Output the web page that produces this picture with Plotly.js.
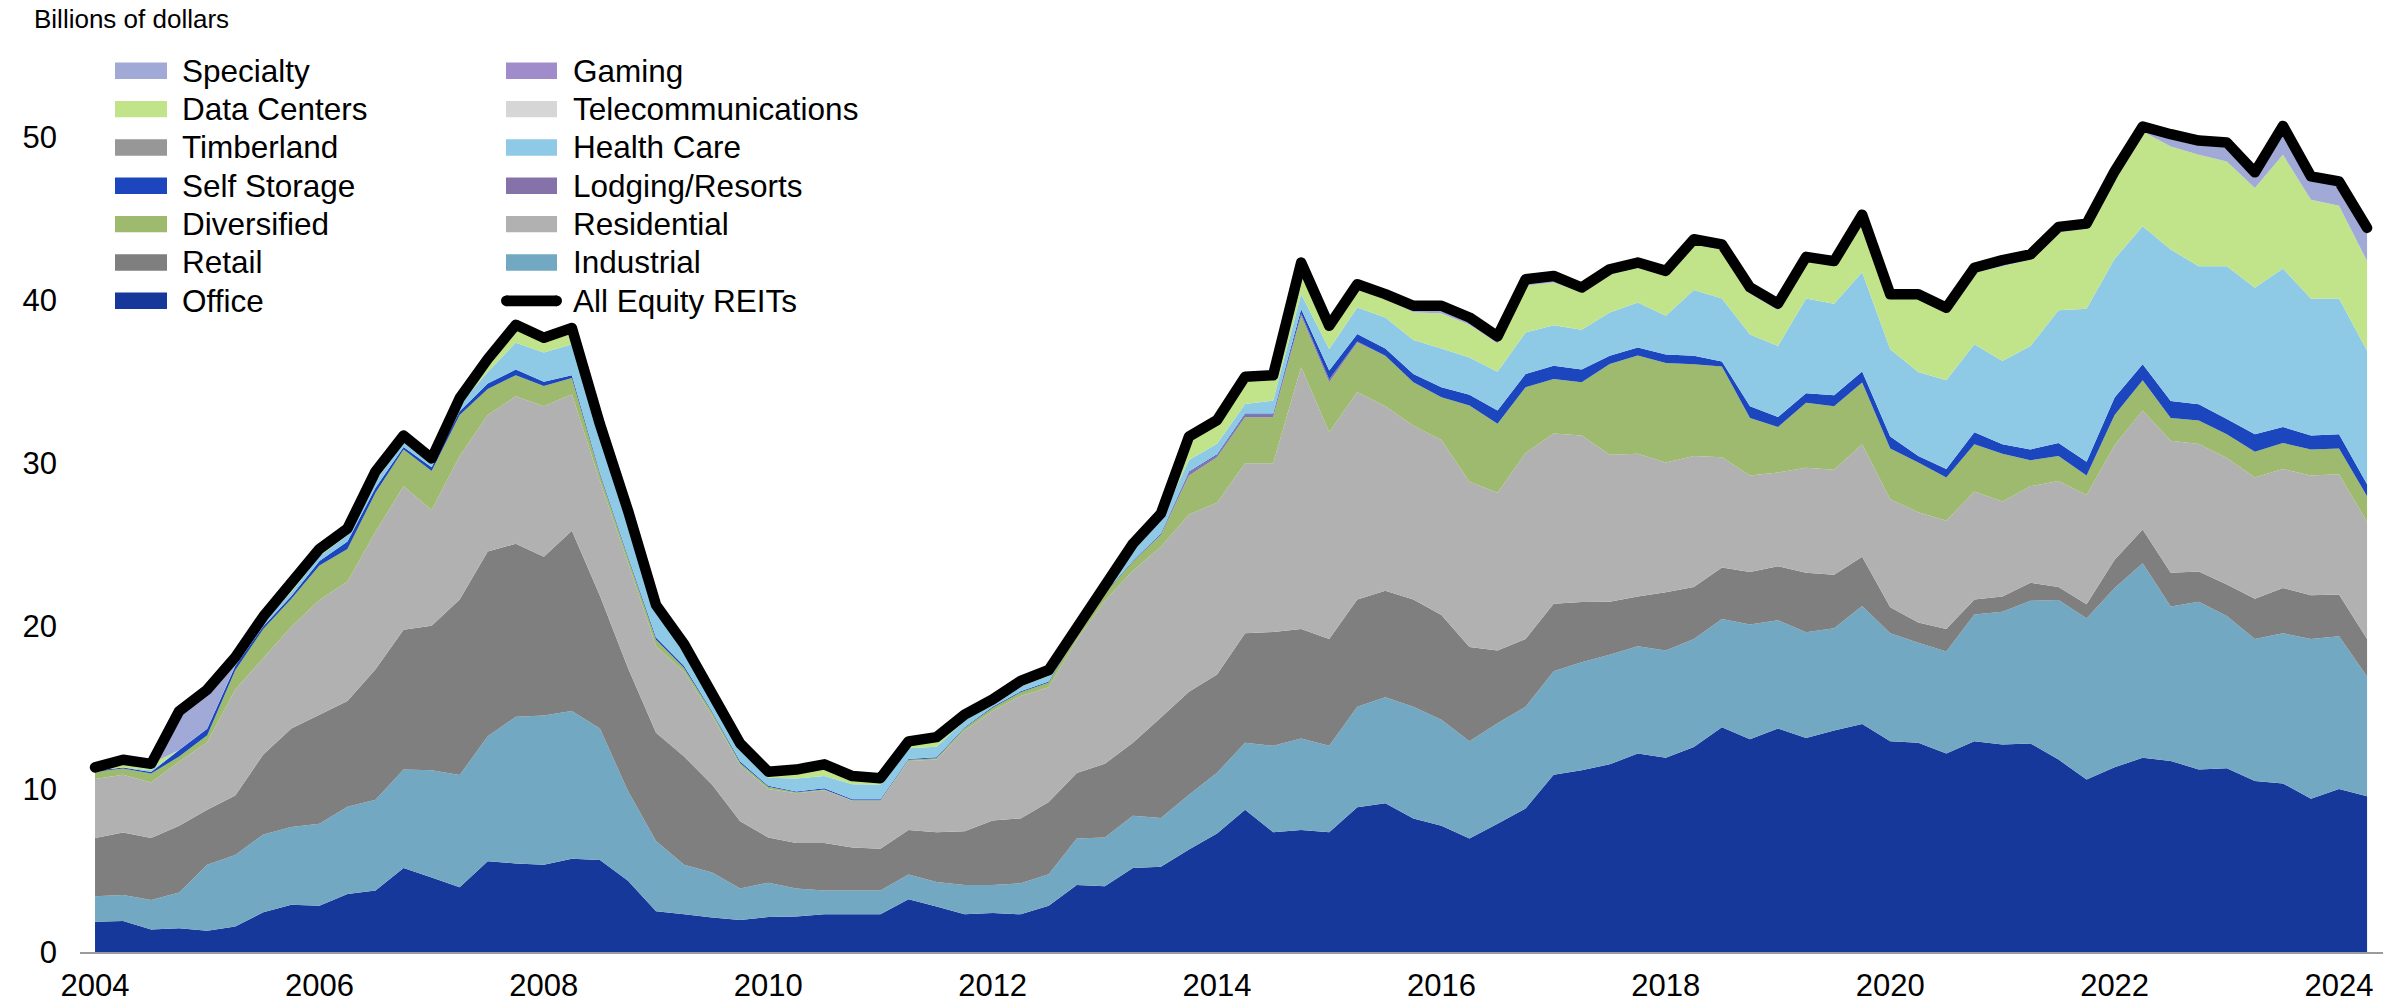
<!DOCTYPE html>
<html>
<head>
<meta charset="utf-8">
<script src="https://cdn.plot.ly/plotly-3.0.1.min.js"></script>
<style>
html,body{margin:0;padding:0;background:#fff;}
#chart{width:2402px;height:1006px;}
.scatterlayer .js-line{stroke-linejoin:round;stroke-linecap:round;}
</style>
</head>
<body>
<div id="chart"></div>
<script>
// Quarterly observations, 2004 Q1 to 2024 Q2
const quarters = [
 "2004Q1","2004Q2","2004Q3","2004Q4","2005Q1","2005Q2","2005Q3","2005Q4","2006Q1","2006Q2",
 "2006Q3","2006Q4","2007Q1","2007Q2","2007Q3","2007Q4","2008Q1","2008Q2","2008Q3","2008Q4",
 "2009Q1","2009Q2","2009Q3","2009Q4","2010Q1","2010Q2","2010Q3","2010Q4","2011Q1","2011Q2",
 "2011Q3","2011Q4","2012Q1","2012Q2","2012Q3","2012Q4","2013Q1","2013Q2","2013Q3","2013Q4",
 "2014Q1","2014Q2","2014Q3","2014Q4","2015Q1","2015Q2","2015Q3","2015Q4","2016Q1","2016Q2",
 "2016Q3","2016Q4","2017Q1","2017Q2","2017Q3","2017Q4","2018Q1","2018Q2","2018Q3","2018Q4",
 "2019Q1","2019Q2","2019Q3","2019Q4","2020Q1","2020Q2","2020Q3","2020Q4","2021Q1","2021Q2",
 "2021Q3","2021Q4","2022Q1","2022Q2","2022Q3","2022Q4","2023Q1","2023Q2","2023Q3","2023Q4",
 "2024Q1","2024Q2"
];

// Billions of dollars, by sector (stacked from the bottom)
const office = [1.86,1.9,1.38,1.46,1.3,1.57,2.44,2.9,2.84,3.56,
 3.77,5.15,4.57,3.98,5.57,5.44,5.36,5.73,5.65,4.38,
 2.5,2.31,2.12,1.96,2.15,2.18,2.31,2.31,2.31,3.24,
 2.79,2.31,2.39,2.31,2.84,4.11,4.03,5.15,5.23,6.29,
 7.27,8.73,7.35,7.49,7.35,8.89,9.13,8.2,7.75,6.96,
 7.88,8.81,10.88,11.15,11.52,12.18,11.92,12.58,13.8,13.06,
 13.72,13.14,13.59,13.99,12.93,12.85,12.18,12.93,12.74,12.8,
 11.81,10.59,11.34,11.92,11.73,11.2,11.28,10.49,10.35,9.4,
 10.0,9.56];
const industrial = [1.56,1.6,1.81,2.2,4.06,4.38,4.78,4.77,5.04,5.36,
 5.57,6.05,6.58,6.88,7.68,9.0,9.16,9.06,8.07,5.5,
 4.32,3.05,2.76,1.94,2.1,1.72,1.46,1.46,1.46,1.51,
 1.51,1.8,1.72,1.91,1.94,2.85,3.0,3.21,3.0,3.37,
 3.73,4.12,5.31,5.62,5.31,6.16,6.51,6.85,6.51,5.97,
 6.16,6.24,6.35,6.64,6.72,6.59,6.58,6.64,6.64,7.04,
 6.64,6.48,6.29,7.25,6.63,6.13,6.27,7.78,8.15,8.76,
 9.8,9.9,11.01,11.95,9.48,10.3,9.35,8.73,9.21,9.82,
 9.38,7.35];
const retail = [3.58,3.83,3.81,4.09,3.37,3.65,4.91,6.05,6.69,6.48,
 8.02,8.58,8.87,10.78,11.33,10.62,9.74,11.07,8.15,7.56,
 6.64,6.64,5.39,4.12,2.78,2.79,2.92,2.65,2.57,2.74,
 3.05,3.3,3.96,3.98,4.43,4.03,4.52,4.49,6.16,6.32,
 6.04,6.71,6.98,6.72,6.56,6.59,6.53,6.59,6.42,5.79,
 4.46,4.17,4.14,3.69,3.26,3.05,3.59,3.18,3.16,3.23,
 3.32,3.66,3.27,3.02,1.6,1.25,1.38,0.93,0.93,1.11,
 0.79,0.85,1.73,2.07,2.07,1.86,1.93,2.47,2.79,2.68,
 2.57,2.31];
const residential = [3.62,3.55,3.4,3.93,4.14,6.51,5.92,6.24,7.03,7.35,
 8.44,8.81,7.11,8.81,8.39,9.05,9.24,8.38,7.03,6.46,
 5.31,5.2,4.23,3.45,2.97,3.05,3.24,2.87,2.95,4.24,
 4.46,6.18,6.72,7.52,7.04,8.18,10.01,10.56,10.48,10.88,
 10.54,10.44,10.36,16.06,12.69,12.74,11.33,10.67,10.75,10.14,
 9.69,11.41,10.46,10.22,9.03,8.76,7.96,8.05,6.77,5.92,
 5.76,6.45,6.45,6.91,6.63,6.77,6.64,6.63,5.84,5.92,
 6.51,6.72,7.03,7.3,8.1,7.83,7.76,7.43,7.3,7.35,
 7.38,7.17];
const diversified = [0.45,0.38,0.55,0.32,0.43,1.19,1.78,1.73,2.13,1.99,
 2.39,2.26,2.39,2.52,1.59,1.3,1.25,0.99,0.4,0.3,
 0.4,0.24,0.2,0.13,0.14,0.06,0.05,0.03,0.03,0.07,
 0.09,0.16,0.21,0.23,0.3,0.33,0.44,0.54,0.73,2.39,
 2.79,2.83,2.83,3.16,3.06,3.04,3.1,2.66,2.62,4.68,
 4.23,4.04,3.35,3.27,5.57,6.03,6.11,5.63,5.57,3.53,
 2.79,3.98,3.9,3.79,3.11,3.05,2.65,2.9,2.92,1.59,
 1.54,1.19,1.86,1.85,1.4,1.44,1.46,1.59,1.6,1.6,
 1.57,1.59];
const lodgingResorts = [0,0,0,0,0,0,0,0,0,0,
 0,0,0,0,0,0,0,0,0,0,
 0,0,0,0,0,0,0,0,0,0,
 0,0,0,0,0,0,0,0,0.05,0.2,
 0.13,0.17,0.17,0.15,0.18,0.05,0,0,0,0,
 0,0,0,0,0,0,0,0,0,0,
 0,0,0,0,0,0,0,0,0,0,
 0,0,0,0,0,0,0,0,0,0,
 0,0];
const selfStorage = [0.05,0.06,0.1,0.4,0.4,0.25,0.17,0.16,0.27,0.46,
 0.31,0.15,0.23,0.23,0.34,0.34,0.25,0.17,0.1,0.1,
 0.13,0.11,0.07,0.1,0.06,0.05,0.07,0.06,0.06,0.05,
 0.05,0.05,0.05,0.05,0.05,0.05,0.05,0.05,0.05,0.05,
 0.05,0.05,0.05,0.26,0.54,0.46,0.45,0.51,0.62,0.66,
 0.82,0.81,0.81,0.78,0.5,0.49,0.51,0.52,0.31,0.72,
 0.61,0.59,0.67,0.67,0.74,0.4,0.53,0.74,0.59,0.67,
 0.8,0.85,1.06,0.99,1.04,1.0,0.93,1.07,0.98,0.85,
 0.88,0.74];
const healthCare = [0,0,0.1,0,0,0.05,0.3,0.25,0.3,0.4,
 0.4,0.3,0.25,0.4,0.7,1.65,1.8,1.9,2.2,2.3,
 1.5,1.05,0.73,0.8,0.5,0.8,0.75,0.92,0.9,0.65,
 0.65,0.4,0.25,0.3,0.35,0.15,0.25,0.75,0.8,0.7,
 0.65,0.59,0.8,0.92,1.32,1.63,1.9,2.08,2.38,2.3,
 2.38,2.55,2.49,2.45,2.66,2.77,2.38,4.04,3.86,4.4,
 4.36,5.82,5.62,6.1,5.36,5.16,5.45,5.39,5.11,6.35,
 8.14,9.39,8.52,8.47,9.3,8.47,9.39,8.99,9.73,8.4,
 8.34,8.18];
const timberland = [0,0,0,0,0,0,0,0,0,0,
 0,0,0,0,0,0,0,0,0,0,
 0,0,0,0,0,0,0,0,0,0,
 0,0,0,0,0,0,0,0,0,0,
 0,0,0,0,0,0,0,0,0,0,
 0,0,0,0,0,0,0,0,0,0,
 0,0,0,0,0,0,0,0,0,0,
 0,0,0,0,0,0,0,0,0,0,
 0,0];
const telecommunications = [0,0,0,0,0,0,0,0,0,0,
 0,0,0,0,0,0,0,0,0,0,
 0,0,0,0,0,0,0,0,0,0,
 0,0,0,0,0,0,0,0,0,0,
 0,0,0,0,0,0,0,0,0,0,
 0,0,0,0,0,0,0,0,0,0,
 0,0,0,0,0,0,0,0,0,0,
 0,0,0,0,0,0,0,0,0,0,
 0,0];
const dataCenters = [0.21,0.48,0.4,0,0,0,0.3,0.5,0.44,0.4,
 0.6,0.4,0.3,0.4,0.8,1.1,0.9,1.0,0.8,0.5,
 0.5,0.3,0.3,0.3,0.37,0.55,0.72,0.5,0.39,0.43,
 0.59,0.37,0.2,0.34,0.36,0.26,0.32,0.31,0.42,1.44,
 1.45,1.67,1.56,1.94,1.43,1.43,1.15,1.71,2.15,2.0,
 1.73,2.87,2.62,2.3,2.34,2.13,2.45,2.76,2.99,2.5,
 2.2,2.28,2.41,3.17,3.1,4.49,4.2,4.4,5.82,5.3,
 4.81,4.91,5.05,5.82,6.33,6.84,6.43,6.13,6.98,6.08,
 5.69,5.51];
const gaming = [0,0,0,0,0,0,0,0,0,0,
 0,0,0,0,0,0,0,0,0,0,
 0,0,0,0,0,0,0,0,0,0,
 0,0,0,0,0,0,0,0,0,0,
 0,0,0,0,0,0,0,0,0,0,
 0,0,0,0,0,0,0,0,0,0,
 0,0,0,0,0,0,0,0,0,0,
 0,0,0,0,0,0,0,0,0,0,
 0,0];
const specialty = [0,0,0,2.39,2.41,0.5,0,0,0,0,
 0,0,0,0,0,0,0,0,0,0,
 0,0,0,0,0,0,0,0,0,0,
 0,0,0,0,0,0,0,0,0,0,
 0,0,0,0,0,0,0.28,0.4,0.47,0.45,
 0.44,0.4,0.4,0.29,0.31,0.32,0.31,0.35,0.34,0.4,
 0.4,0.27,0.21,0.36,0.27,0.27,0.25,0.3,0.37,0.32,
 0.31,0.31,0.32,0.3,0.75,0.87,1.16,0.96,1.77,1.43,
 1.49,2.04];
const allEquityREITs = [11.33,11.8,11.55,14.79,16.11,18.1,20.6,22.6,24.74,26.0,
 29.5,31.7,30.3,34.0,36.4,38.5,37.7,38.3,32.4,27.1,
 21.3,18.9,15.8,12.8,11.07,11.2,11.52,10.8,10.67,12.93,
 13.19,14.57,15.5,16.64,17.31,19.96,22.62,25.06,26.92,31.64,
 32.65,35.31,35.41,42.32,38.44,40.99,40.38,39.67,39.67,38.95,
 37.79,41.3,41.5,40.79,41.91,42.32,41.81,43.75,43.44,40.8,
 39.8,42.67,42.41,45.26,40.37,40.37,39.55,42.0,42.47,42.82,
 44.51,44.71,47.92,50.67,50.2,49.81,49.69,47.86,50.71,47.61,
 47.3,44.45];

const tickYears = [2004,2006,2008,2010,2012,2014,2016,2018,2020,2022,2024];
const tickLabels = ["2004","2006","2008","2010","2012","2014","2016","2018","2020","2022","2024"];
const yTicks = [0,10,20,30,40,50];

// stack order, bottom to top
const sectors = [
  {name:"Office", y:office, color:"#15389a"},
  {name:"Industrial", y:industrial, color:"#73a8c2"},
  {name:"Retail", y:retail, color:"#7f7f7f"},
  {name:"Residential", y:residential, color:"#b1b1b1"},
  {name:"Diversified", y:diversified, color:"#9dba6f"},
  {name:"Lodging/Resorts", y:lodgingResorts, color:"#8472a8"},
  {name:"Self Storage", y:selfStorage, color:"#1c46bd"},
  {name:"Health Care", y:healthCare, color:"#8ecae6"},
  {name:"Timberland", y:timberland, color:"#979797"},
  {name:"Telecommunications", y:telecommunications, color:"#d6d6d6"},
  {name:"Data Centers", y:dataCenters, color:"#c1e48b"},
  {name:"Gaming", y:gaming, color:"#a08ccb"},
  {name:"Specialty", y:specialty, color:"#a1a9d6"}
];
const colorOf = {};
sectors.forEach(s => colorOf[s.name] = s.color);

const xq = quarters.map(q => parseInt(q.slice(0,4)) + (parseInt(q.slice(5)) - 1) / 4);

const FONT = "Liberation Sans, Arial, Helvetica, sans-serif";

const traces = sectors.map(s => ({
  type:"scatter", x:xq, y:s.y, name:s.name, stackgroup:"one", mode:"none",
  fillcolor:s.color, line:{width:0}, hoverinfo:"skip", showlegend:false
}));
traces.push({
  type:"scatter", x:xq, y:allEquityREITs, name:"All Equity REITs", mode:"lines",
  line:{color:"#000000", width:10.5}, hoverinfo:"skip", showlegend:false
});

// Layout geometry (pixels)
const W = 2402, H = 1006, ML = 80, MR = 19, MT = 56, MB = 54;
const PW = W - ML - MR, PH = H - MT - MB;
const px = p => (p - ML) / PW;
const py = p => (H - MB - p) / PH;

// Manual two-column legend
const col1 = ["Specialty","Data Centers","Timberland","Self Storage","Diversified","Retail","Office"];
const col2 = ["Gaming","Telecommunications","Health Care","Lodging/Resorts","Residential","Industrial","All Equity REITs"];
const rowY0 = 70.8, rowDY = 38.33;
const shapes = [], annotations = [];
function addEntry(name, row, swX0, swX1, textX){
  const yc = rowY0 + row * rowDY;
  if (name === "All Equity REITs") {
    shapes.push({type:"line", xref:"paper", yref:"paper", x0:px(swX0+5), x1:px(swX1-5), y0:py(yc), y1:py(yc),
      line:{color:"#000", width:10.7}});
    shapes.push({type:"circle", xref:"paper", yref:"paper", x0:px(swX0), x1:px(swX0+10.7), y0:py(yc-5.35), y1:py(yc+5.35),
      fillcolor:"#000", line:{width:0}});
    shapes.push({type:"circle", xref:"paper", yref:"paper", x0:px(swX1-10.7), x1:px(swX1), y0:py(yc-5.35), y1:py(yc+5.35),
      fillcolor:"#000", line:{width:0}});
  } else {
    shapes.push({type:"rect", xref:"paper", yref:"paper", x0:px(swX0), x1:px(swX1), y0:py(yc+8.2), y1:py(yc-8.2),
      fillcolor:colorOf[name], line:{width:0}});
  }
  annotations.push({xref:"paper", yref:"paper", x:px(textX), y:py(yc), xanchor:"left", yanchor:"middle",
    text:name, showarrow:false, font:{family:FONT, size:31.5, color:"#000"}, borderpad:0});
}
col1.forEach((n,i) => addEntry(n, i, 115, 167, 181));
col2.forEach((n,i) => n === "All Equity REITs" ? addEntry(n, i, 501, 562, 572) : addEntry(n, i, 506, 557, 572));

annotations.push({xref:"paper", yref:"paper", x:px(33), y:py(19), xanchor:"left", yanchor:"middle",
  text:"Billions of dollars", showarrow:false, font:{family:FONT, size:26, color:"#000"}, borderpad:0});

const layout = {
  width:W, height:H,
  margin:{l:ML, r:MR, t:MT, b:MB, pad:0},
  paper_bgcolor:"#ffffff", plot_bgcolor:"#ffffff",
  showlegend:false,
  font:{family:FONT, size:31, color:"#000"},
  xaxis:{
    type:"linear", range:[2003.866, 2024.392],
    tickmode:"array", tickvals:tickYears, ticktext:tickLabels,
    showgrid:false, zeroline:false, showline:true, linecolor:"#9b9b9b", linewidth:2,
    ticks:"", tickfont:{family:FONT, size:31, color:"#000"}, ticklabelstandoff:5
  },
  yaxis:{
    range:[0,55], tickmode:"array", tickvals:yTicks,
    showgrid:false, zeroline:false, showline:false, ticks:"",
    tickfont:{family:FONT, size:31, color:"#000"}, ticklabelstandoff:22
  },
  shapes:shapes,
  annotations:annotations
};

Plotly.newPlot("chart", traces, layout, {displayModeBar:false, staticPlot:true});
</script>
</body>
</html>
